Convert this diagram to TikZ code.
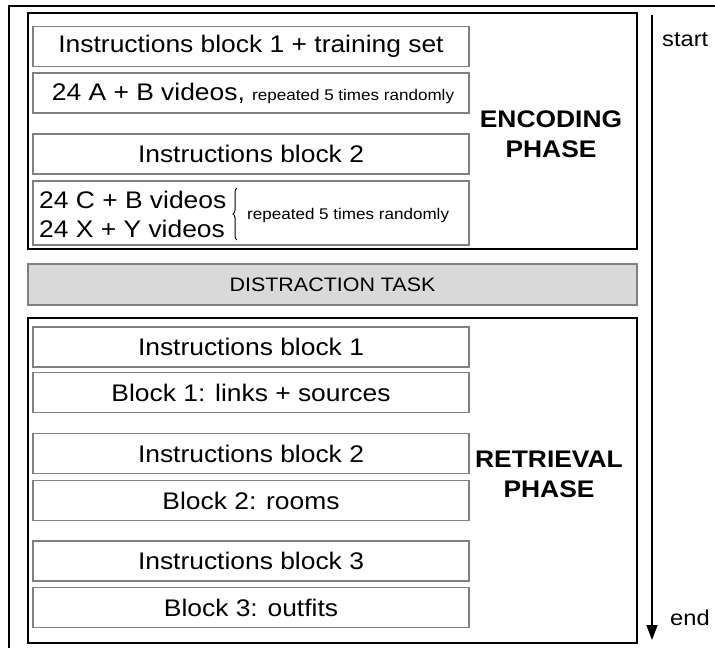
\documentclass[tikz,border=0pt]{standalone}
\usepackage{fontspec}
\setmainfont[FakeStretch=1.1]{Liberation Sans}
\usetikzlibrary{arrows.meta,decorations.pathreplacing}
\definecolor{boxgray}{HTML}{808080}
\definecolor{taskfill}{HTML}{D9D9D9}
\begin{document}
\begin{tikzpicture}[x=1pt,y=-1pt,
  inbox/.style={draw=boxgray, line width=1.4pt, minimum width=436pt, minimum height=40pt, inner sep=0pt, font=\fontsize{24}{28}\selectfont},
  phasebox/.style={draw=black, line width=2.6pt},
  phaselabel/.style={font=\fontsize{24}{30}\selectfont\bfseries, align=center},
  small/.style={font=\fontsize{15.5}{18}\selectfont},
  bigtext/.style={font=\fontsize{24}{28}\selectfont, anchor=west, inner sep=0pt},
  timelabel/.style={font=\fontsize{21.5}{25}\selectfont, anchor=west, inner sep=0pt}]
\useasboundingbox (0,0) rectangle (715,648);
% outer frame
\draw[line width=2pt] (9,648) -- (9,6) -- (715,6);
% encoding phase
\draw[phasebox] (28,13) rectangle (637,249);
\node[inbox] (e1) at (251,46.5) {Instructions block 1 + training set};
\node[inbox] (e2) at (251,93) {\hspace*{4pt}24 A + B videos, {\fontsize{15.5}{18}\selectfont repeated 5 times randomly}};
\node[inbox] (e3) at (251,154) {Instructions block 2};
\node[inbox, minimum height=64pt] (e4) at (251,213) {};
\node[bigtext] (cb) at (39,200) {24 C + B videos};
\node[bigtext] (xy) at (39,229) {24 X + Y videos};
\draw[decorate, decoration={brace, amplitude=4pt, mirror}, line width=1pt] (237,188) -- (237,240);
\node[small, anchor=west, inner sep=0pt] (rep) at (247,215) {repeated 5 times randomly};
\node[phaselabel] (enc) at (551,134) {ENCODING\\PHASE};
% distraction
\node[draw=boxgray, fill=taskfill, line width=1.2pt, minimum width=609pt, minimum height=41pt, inner sep=0pt, font=\fontsize{19.5}{23}\selectfont] (dt) at (332.5,284.5) {DISTRACTION TASK};
% retrieval phase
\draw[phasebox] (28,318) rectangle (637,643);
\node[inbox] (r1) at (251,347) {Instructions block 1};
\node[inbox] (r2) at (251,392.5) {Block 1: links + sources};
\node[inbox] (r3) at (251,453.5) {Instructions block 2};
\node[inbox] (r4) at (251,500.5) {Block 2: rooms};
\node[inbox] (r5) at (251,561) {Instructions block 3};
\node[inbox] (r6) at (251,607.5) {Block 3: outfits};
\node[phaselabel] (ret) at (549,474) {RETRIEVAL\\PHASE};
% time arrow
\coordinate (ts) at (652,15);
\coordinate (te) at (652,640);
\draw[line width=1.6pt, -{Triangle[length=15pt,width=11pt]}] (ts) -- (te);
\node[timelabel] (start) at (662,40) {start};
\node[timelabel] (end) at (670,618) {end};
\end{tikzpicture}
\end{document}
